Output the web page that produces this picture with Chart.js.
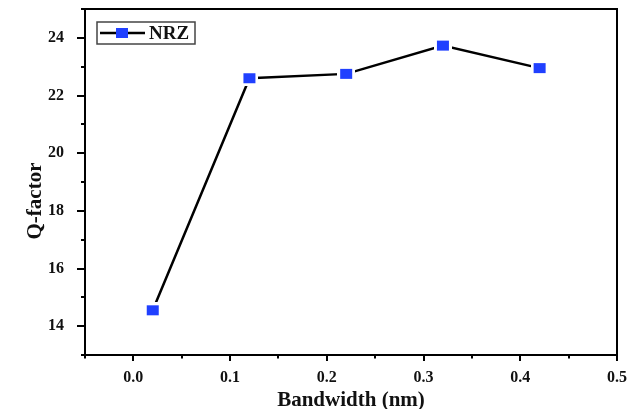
<!DOCTYPE html>
<html><head><meta charset="utf-8">
<script src="https://cdn.jsdelivr.net/npm/chart.js@4/dist/chart.umd.min.js"></script>
<style>html,body{margin:0;padding:0;background:#fff}#wrap{width:630px;height:409px}</style>
</head><body><div id="wrap"><canvas id="c" width="630" height="409"></canvas></div>
<script>
// ---- data ----
const bandwidth = [0.02, 0.12, 0.22, 0.32, 0.42];
const qFactor = [14.55, 22.6, 22.75, 23.73, 22.95];
const seriesName = 'NRZ';
const xMajorTicks = [0.0, 0.1, 0.2, 0.3, 0.4, 0.5];
const xMinorTicks = [-0.05, 0.05, 0.15, 0.25, 0.35, 0.45];
const yMajorTicks = [14, 16, 18, 20, 22, 24];
const yMinorTicks = [13, 15, 17, 19, 21, 23, 25];
const xTitle = 'Bandwidth (nm)';
const yTitle = 'Q-factor';

// ---- styles ----
const FONT = '"Liberation Serif", "Times New Roman", serif';
const BLUE = '#2040ff';
const TXT = '#111';

function makeMarker(gap) {
  const w = 12, h = 10;
  const c = document.createElement('canvas');
  c.width = w + 2 * gap; c.height = h + 2 * gap;
  const g = c.getContext('2d');
  if (gap > 0) { g.fillStyle = '#fff'; g.fillRect(0, 0, c.width, c.height); }
  g.fillStyle = BLUE; g.fillRect(gap, gap, w, h);
  return c;
}
const marker = makeMarker(3);

const framePlugin = {
  id: 'frameTicks',
  afterDraw(chart) {
    const {ctx, chartArea: a, scales: {x, y}} = chart;
    ctx.save();
    ctx.strokeStyle = '#000';
    ctx.lineWidth = 2;
    ctx.strokeRect(a.left, a.top, a.right - a.left, a.bottom - a.top);
    ctx.beginPath();
    xMajorTicks.forEach(v => { const p = Math.round(x.getPixelForValue(v)); ctx.moveTo(p, a.bottom); ctx.lineTo(p, a.bottom + 6); });
    xMinorTicks.forEach(v => { const p = Math.round(x.getPixelForValue(v)); ctx.moveTo(p, a.bottom); ctx.lineTo(p, a.bottom + 3.5); });
    yMajorTicks.forEach(v => { const p = Math.round(y.getPixelForValue(v)); ctx.moveTo(a.left, p); ctx.lineTo(a.left - 8, p); });
    yMinorTicks.forEach(v => { const p = Math.round(y.getPixelForValue(v)); ctx.moveTo(a.left, p); ctx.lineTo(a.left - 4, p); });
    ctx.stroke();

    // y axis title
    ctx.fillStyle = TXT;
    ctx.font = 'bold 21px ' + FONT;
    ctx.textAlign = 'center';
    ctx.textBaseline = 'middle';
    ctx.translate(36, 201);
    ctx.rotate(-Math.PI / 2);
    ctx.fillText(yTitle, 0, 0);
    ctx.restore();

    // legend
    ctx.save();
    const lx = a.left + 12, ly = a.top + 13, lw = 98, lh = 22;
    ctx.strokeStyle = '#444';
    ctx.lineWidth = 1.5;
    ctx.strokeRect(lx, ly, lw, lh);
    const cy = ly + lh / 2;
    ctx.strokeStyle = '#000';
    ctx.lineWidth = 2.5;
    ctx.beginPath();
    ctx.moveTo(lx + 3, cy); ctx.lineTo(lx + 48, cy);
    ctx.stroke();
    ctx.fillStyle = BLUE;
    ctx.fillRect(lx + 25 - 6, cy - 5, 12, 10);
    ctx.fillStyle = TXT;
    ctx.font = 'bold 19px ' + FONT;
    ctx.textAlign = 'left';
    ctx.textBaseline = 'middle';
    ctx.fillText(seriesName, lx + 52, cy + 1);
    ctx.restore();
  }
};

new Chart(document.getElementById('c'), {
  type: 'line',
  data: {
    datasets: [{
      label: seriesName,
      data: bandwidth.map((v, i) => ({x: v, y: qFactor[i]})),
      borderColor: '#000',
      borderWidth: 2.5,
      pointStyle: marker,
      pointRadius: 6,
      pointHoverRadius: 6,
      tension: 0,
      fill: false
    }]
  },
  options: {
    responsive: false,
    animation: false,
    devicePixelRatio: 1,
    layout: {padding: {left: 0, right: 13, top: 9, bottom: 0}},
    plugins: {legend: {display: false}, tooltip: {enabled: false}},
    scales: {
      x: {
        type: 'linear', min: -0.05, max: 0.5,
        afterBuildTicks: s => { s.ticks = xMajorTicks.map(v => ({value: v})); },
        afterFit: s => { s.height = 54; s.paddingLeft = 0; s.paddingRight = 0; },
        grid: {display: false},
        border: {display: false},
        ticks: {
          callback: v => Number(v).toFixed(1),
          font: {family: FONT, size: 16, weight: 'bold'},
          color: TXT, padding: 5, maxRotation: 0, autoSkip: false
        },
        title: {display: true, text: xTitle, font: {family: FONT, size: 21, weight: 'bold', lineHeight: 0.8}, color: TXT, padding: {top: 0, bottom: 0}}
      },
      y: {
        type: 'linear', min: 13, max: 25,
        afterBuildTicks: s => { s.ticks = yMajorTicks.map(v => ({value: v})); },
        afterFit: s => { s.width = 85; s.paddingTop = 0; s.paddingBottom = 0; },
        grid: {display: false},
        border: {display: false},
        ticks: {
          callback: v => String(v),
          font: {family: FONT, size: 16, weight: 'bold'},
          color: TXT, padding: 13, autoSkip: false
        }
      }
    }
  },
  plugins: [framePlugin]
});
</script>
</body></html>
